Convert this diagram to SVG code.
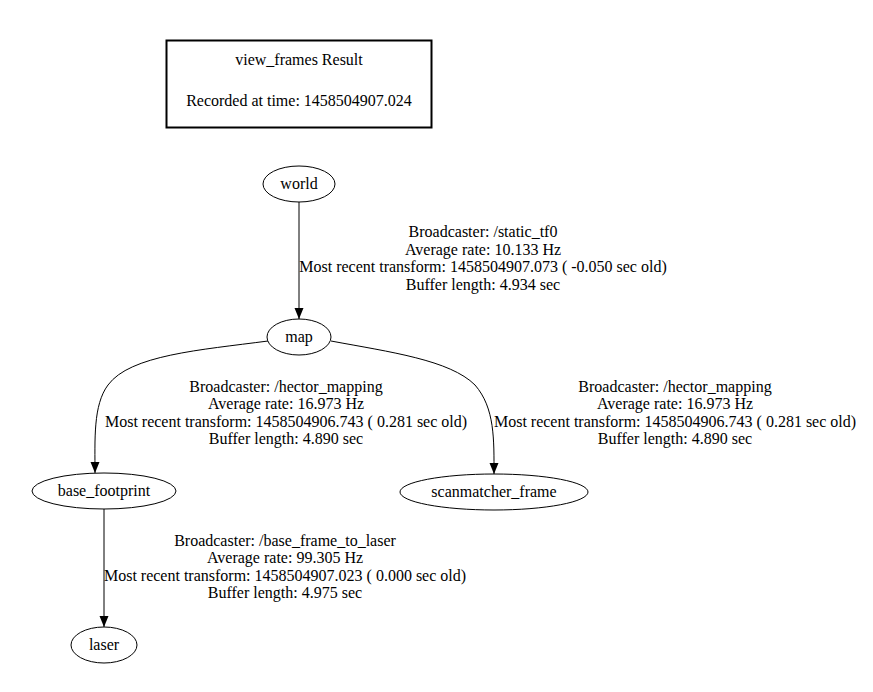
<svg xmlns="http://www.w3.org/2000/svg" width="873" height="692" viewBox="0 0 873 692">
<defs>
<style>
text{font-family:"Liberation Serif","Times New Roman",serif;font-size:16px;fill:#000;text-anchor:middle}
.n{fill:none;stroke:#000;stroke-width:1}
.e{fill:none;stroke:#000;stroke-width:1}
</style>
<marker id="ah" viewBox="0 0 11 10" refX="11" refY="5" markerWidth="11" markerHeight="10" markerUnits="userSpaceOnUse" orient="auto">
<path d="M0,0.5 L11,5 L0,9.5 Z" fill="#000"/>
</marker>
</defs>
<rect width="873" height="692" fill="#fff"/>
<g id="header">
<rect x="166.5" y="40.5" width="265" height="87" fill="none" stroke="#000" stroke-width="2"/>
<text x="299" y="65">view_frames Result</text>
<text x="299" y="106">Recorded at time: 1458504907.024</text>
</g>
<g id="connectors">
<path class="e" d="M299,202 L299,319" marker-end="url(#ah)"/>
<path class="e" d="M268,341 C200,350 130,355 108,385 C93,405 95,440 95,473" marker-end="url(#ah)"/>
<path class="e" d="M331,341 C390,352 450,360 475,385 C495,408 494,440 494,474" marker-end="url(#ah)"/>
<path class="e" d="M104,509 L104,627" marker-end="url(#ah)"/>
<g id="label-world-map">
<text x="483" y="237">Broadcaster: /static_tf0</text>
<text x="483" y="254.5">Average rate: 10.133 Hz</text>
<text x="483" y="272">Most recent transform: 1458504907.073 ( -0.050 sec old)</text>
<text x="483" y="289.5">Buffer length: 4.934 sec</text>
</g>
<g id="label-map-base">
<text x="286" y="391.5">Broadcaster: /hector_mapping</text>
<text x="286" y="409">Average rate: 16.973 Hz</text>
<text x="286" y="426.5">Most recent transform: 1458504906.743 ( 0.281 sec old)</text>
<text x="286" y="444">Buffer length: 4.890 sec</text>
</g>
<g id="label-map-scan">
<text x="675" y="391.5">Broadcaster: /hector_mapping</text>
<text x="675" y="409">Average rate: 16.973 Hz</text>
<text x="675" y="426.5">Most recent transform: 1458504906.743 ( 0.281 sec old)</text>
<text x="675" y="444">Buffer length: 4.890 sec</text>
</g>
<g id="label-base-laser">
<text x="285" y="545.5">Broadcaster: /base_frame_to_laser</text>
<text x="285" y="563">Average rate: 99.305 Hz</text>
<text x="285" y="580.5">Most recent transform: 1458504907.023 ( 0.000 sec old)</text>
<text x="285" y="598">Buffer length: 4.975 sec</text>
</g>
</g>
<g id="world">
<ellipse class="n" cx="299" cy="184" rx="36" ry="18"/>
<text x="299" y="188.5">world</text>
</g>
<g id="map">
<ellipse class="n" cx="299" cy="337" rx="32" ry="18"/>
<text x="299" y="341.5">map</text>
</g>
<g id="base_footprint">
<ellipse class="n" cx="104" cy="491" rx="72" ry="18"/>
<text x="104" y="495.5">base_footprint</text>
</g>
<g id="scanmatcher_frame">
<ellipse class="n" cx="494" cy="492" rx="94" ry="18"/>
<text x="494" y="496.5">scanmatcher_frame</text>
</g>
<g id="laser">
<ellipse class="n" cx="104" cy="645" rx="33" ry="18"/>
<text x="104" y="649.5">laser</text>
</g>
</svg>
